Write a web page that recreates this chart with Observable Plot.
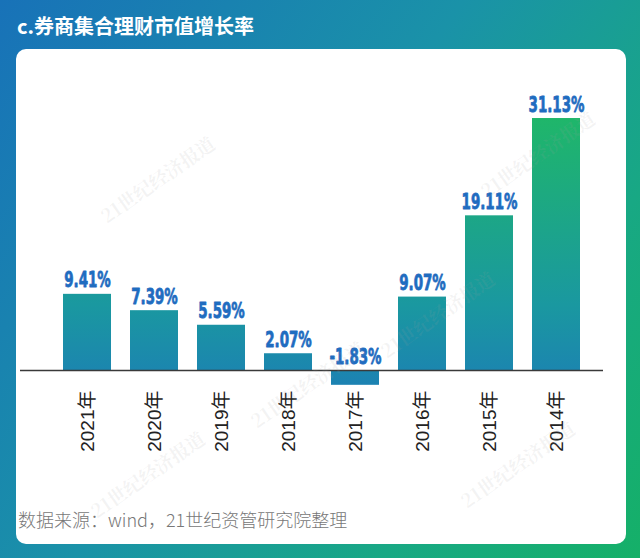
<!DOCTYPE html>
<html>
<head>
<meta charset="utf-8">
<script src="https://cdn.jsdelivr.net/npm/d3@7"></script>
<script src="https://cdn.jsdelivr.net/npm/@observablehq/plot@0.6"></script>
<style>
  html, body { margin: 0; padding: 0; }
  #page {
    position: relative; width: 640px; height: 558px; overflow: hidden;
    background: linear-gradient(125deg, #1872b8 0%, #1a92a8 45%, #18a884 75%, #15b068 100%);
    font-family: "Liberation Sans", "Noto Sans CJK SC", sans-serif;
  }
  #title {
    position: absolute; left: 17px; top: 11px; color: #fff;
    font: bold 20px "Noto Sans CJK SC", "Liberation Sans", sans-serif;
  }
  #panel {
    position: absolute; left: 16px; top: 49px; width: 610px; height: 495px;
    background: #fff; border-radius: 10px;
  }
  #caption {
    position: absolute; left: 18px; top: 506px; color: #777;
    font: 18px "Noto Sans CJK SC", "Liberation Sans", sans-serif; font-weight: 300;
  }
  #chart { position: absolute; left: 0; top: 0; }
  .wm {
    position: absolute; color: rgba(160,160,160,0.13); font: bold 19px "Noto Serif CJK SC", "Noto Sans CJK SC", serif;
    transform: rotate(-35deg); white-space: nowrap; pointer-events: none;
  }
</style>
</head>
<body>
<div id="page">
  <div id="panel"></div>
  <div id="title">c.券商集合理财市值增长率</div>
  <div id="chart"></div>
  <div id="caption">数据来源：wind，21世纪资管研究院整理</div>
  <div class="wm" style="left:90px;top:165px;">21世纪经济报道</div>
  <div class="wm" style="left:470px;top:140px;">21世纪经济报道</div>
  <div class="wm" style="left:240px;top:370px;">21世纪经济报道</div>
  <div class="wm" style="left:370px;top:300px;">21世纪经济报道</div>
  <div class="wm" style="left:80px;top:460px;">21世纪经济报道</div>
  <div class="wm" style="left:450px;top:450px;">21世纪经济报道</div>
</div>
<script>
const years = ["2021", "2020", "2019", "2018", "2017", "2016", "2015", "2014"];
const growth = [9.41, 7.39, 5.59, 2.07, -1.83, 9.07, 19.11, 31.13];
const labels = ["9.41%", "7.39%", "5.59%", "2.07%", "-1.83%", "9.07%", "19.11%", "31.13%"];

const data = years.map((y, i) => ({year: y, value: growth[i], label: labels[i]}));

const gradientDefs = (index, scales) => {
  const svgNS = "http://www.w3.org/2000/svg";
  const defs = document.createElementNS(svgNS, "defs");
  const g = document.createElementNS(svgNS, "linearGradient");
  g.setAttribute("id", "barGrad");
  g.setAttribute("gradientUnits", "userSpaceOnUse");
  g.setAttribute("x1", 0); g.setAttribute("x2", 0);
  g.setAttribute("y1", scales.y(-1.83)); g.setAttribute("y2", scales.y(31.13));
  [["0%", "#1c82b2"], ["30%", "#1a98a0"], ["100%", "#1fb66a"]].forEach(([o, c]) => {
    const s = document.createElementNS(svgNS, "stop");
    s.setAttribute("offset", o); s.setAttribute("stop-color", c);
    g.appendChild(s);
  });
  defs.appendChild(g);
  return defs;
};

const chart = Plot.plot({
  width: 640,
  height: 558,
  marginTop: 86.7,
  marginBottom: 171,
  marginLeft: 20,
  marginRight: 37,
  style: {background: "transparent", overflow: "visible"},
  x: {domain: years, range: [20, 622], paddingInner: 0.287, paddingOuter: 0.617, label: null},
  y: {domain: [-2.1, 35], axis: null},
  marks: [
    gradientDefs,
    Plot.barY(data, {x: "year", y: "value", fill: "url(#barGrad)"}),
    Plot.ruleY([0], {stroke: "#3a3a3a", strokeWidth: 1.5}),
    Plot.text(data, {
      x: "year", y: d => Math.max(d.value, 0), text: "label",
      dy: -7, lineAnchor: "bottom", fill: "#1f6cc0",
      stroke: "#1f6cc0", strokeWidth: 0.8,
      fontSize: 21, fontWeight: "bold",
      fontFamily: "'DejaVu Sans', sans-serif"
    }),
    Plot.axisX({
      anchor: "bottom", rotate: -90, tickSize: 0, tickPadding: 3,
      textAnchor: "end", lineAnchor: "middle",
      tickFormat: d => d + "年", fontSize: 19, fill: "#222", label: null,
      fontFamily: "'Liberation Sans', 'Noto Sans CJK SC', sans-serif"
    })
  ]
});
// condense the value labels horizontally (reference uses a condensed heavy face)
d3.select(chart).selectAll('g[aria-label="text"] text').each(function() {
  const t = this.getAttribute("transform") || "";
  this.setAttribute("transform", t + " scale(0.64,1)");
});
document.getElementById("chart").appendChild(chart);
</script>
</body>
</html>
